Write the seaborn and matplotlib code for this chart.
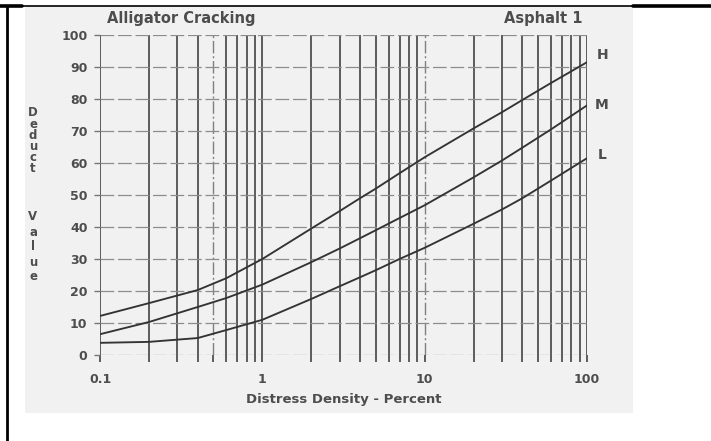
import numpy as np
import pandas as pd
import matplotlib
matplotlib.use("Agg")
import matplotlib.pyplot as plt
from matplotlib.lines import Line2D
from matplotlib.patches import Rectangle
from matplotlib.ticker import FixedLocator, FixedFormatter, NullFormatter
import seaborn as sns

# Deduct value curves for alligator cracking (asphalt), by severity level
density = [0.1, 0.2, 0.4, 0.6, 1, 2, 3, 4, 5, 7, 10, 20, 30, 40, 60, 100]
deduct_high = [12.2, 16.2, 20.3, 24.0, 30.0, 39.5, 45.0, 49.0, 52.0, 56.8, 61.8, 70.8, 75.9, 79.7, 85.0, 91.5]
deduct_medium = [6.5, 10.3, 15.0, 17.8, 22.0, 29.0, 33.3, 36.5, 39.0, 42.8, 46.8, 55.5, 60.8, 64.8, 70.5, 78.0]
deduct_low = [3.8, 4.1, 5.3, 7.8, 11.0, 17.5, 21.5, 24.3, 26.5, 30.0, 33.5, 41.0, 45.5, 49.0, 54.5, 61.5]
severity = ["H", "M", "L"]
label_y = [93.7, 78.0, 62.5]

y_ticks = [0, 10, 20, 30, 40, 50, 60, 70, 80, 90, 100]
x_tick_values = [0.1, 1, 10, 100]
x_tick_labels = ["0.1", "1", "10", "100"]

df = pd.concat([
    pd.DataFrame({"density": density, "deduct": vals, "severity": s})
    for s, vals in zip(severity, [deduct_high, deduct_medium, deduct_low])
])

sns.set_theme(style="white")
plt.rcParams["font.family"] = ["DejaVu Sans"]
plt.rcParams["font.weight"] = "bold"

ink = "#333333"
text_col = "#4d4d4d"
paper = "#f1f1f1"

fig = plt.figure(figsize=(7.11, 4.41), dpi=100)
fig.patch.set_facecolor("white")

# scanned page area
fig.add_artist(Rectangle((25 / 711, 1 - 413 / 441), (633 - 25) / 711, (413 - 7) / 441,
                         transform=fig.transFigure, facecolor=paper, edgecolor="none", zorder=0))
# black frame lines
fig.add_artist(Line2D([0, 1], [1 - 6 / 441] * 2, transform=fig.transFigure, color="black", lw=1.2))
fig.add_artist(Line2D([633 / 711, 1], [1 - 6 / 441] * 2, transform=fig.transFigure, color="black", lw=2.6))
fig.add_artist(Line2D([0, 22 / 711], [1 - 6 / 441] * 2, transform=fig.transFigure, color="black", lw=2.6))
fig.add_artist(Line2D([7 / 711] * 2, [0, 1 - 6 / 441], transform=fig.transFigure, color="black", lw=2.0))

ax = fig.add_axes([100 / 711, 1 - 355 / 441, 487 / 711, 320 / 441])
ax.set_facecolor("none")

ax.set_xscale("log")
ax.set_xlim(0.1, 100)
ax.set_ylim(0, 100)

# vertical grid: every 1..9 of each decade, 0.5 and 10 dash-dotted
grid_x = [m * 10.0 ** e for e in (-1, 0, 1) for m in range(1, 10)] + [100]
for gx in grid_x:
    if np.isclose(gx, 0.5) or np.isclose(gx, 10):
        ax.axvline(gx, color="#808080", lw=1.0, ls=(0, (9, 2, 1.5, 2)), zorder=1)
    else:
        ax.axvline(gx, color=ink, lw=1.1, zorder=1)
# horizontal grid
for gy in y_ticks:
    ax.axhline(gy, color="#8c8c8c", lw=0.9, ls=(0, (11, 3)), zorder=1)

sns.lineplot(data=df, x="density", y="deduct", hue="severity",
             palette={s: ink for s in severity}, estimator=None,
             lw=1.35, legend=False, ax=ax, zorder=3)

for s, ly in zip(severity, label_y):
    ax.text(1.031, ly, s, transform=ax.get_yaxis_transform(), ha="center", va="center",
            fontsize=10, fontweight="bold", color=text_col)

for sp in ax.spines.values():
    sp.set_visible(False)

ax.xaxis.set_major_locator(FixedLocator(x_tick_values))
ax.xaxis.set_major_formatter(FixedFormatter(x_tick_labels))
ax.xaxis.set_minor_locator(FixedLocator([g for g in grid_x if g not in x_tick_values]))
ax.xaxis.set_minor_formatter(NullFormatter())
ax.set_yticks(y_ticks)
ax.tick_params(axis="x", which="both", direction="out", length=5, width=1.1, color=ink,
               labelsize=9, labelcolor=text_col, pad=8, bottom=True)
ax.tick_params(axis="y", direction="out", length=4, width=1.0, color="#777777",
               labelsize=9, labelcolor=text_col, pad=5, left=True)
for lab in ax.get_xticklabels() + ax.get_yticklabels():
    lab.set_fontweight("bold")

ax.set_xlabel("Distress Density - Percent", fontsize=9.5, fontweight="bold", color=text_col, labelpad=5)
ax.set_ylabel("")

# stacked vertical axis title, one letter per line
fig.text(33 / 711, 1 - 141 / 441, "\n".join("Deduct"), ha="center", va="center",
         multialignment="center", linespacing=0.82,
         fontsize=8.5, fontweight="bold", color=text_col)
fig.text(33 / 711, 1 - 247 / 441, "\n".join("Value"), ha="center", va="center",
         multialignment="center", linespacing=1.2,
         fontsize=8.5, fontweight="bold", color=text_col)

fig.text(181 / 711, 1 - 19 / 441, "Alligator Cracking", ha="center", va="center",
         fontsize=10.5, fontweight="bold", color=text_col)
fig.text(543 / 711, 1 - 19 / 441, "Asphalt 1", ha="center", va="center",
         fontsize=10.5, fontweight="bold", color=text_col)

fig.savefig("out.png", dpi=100)
